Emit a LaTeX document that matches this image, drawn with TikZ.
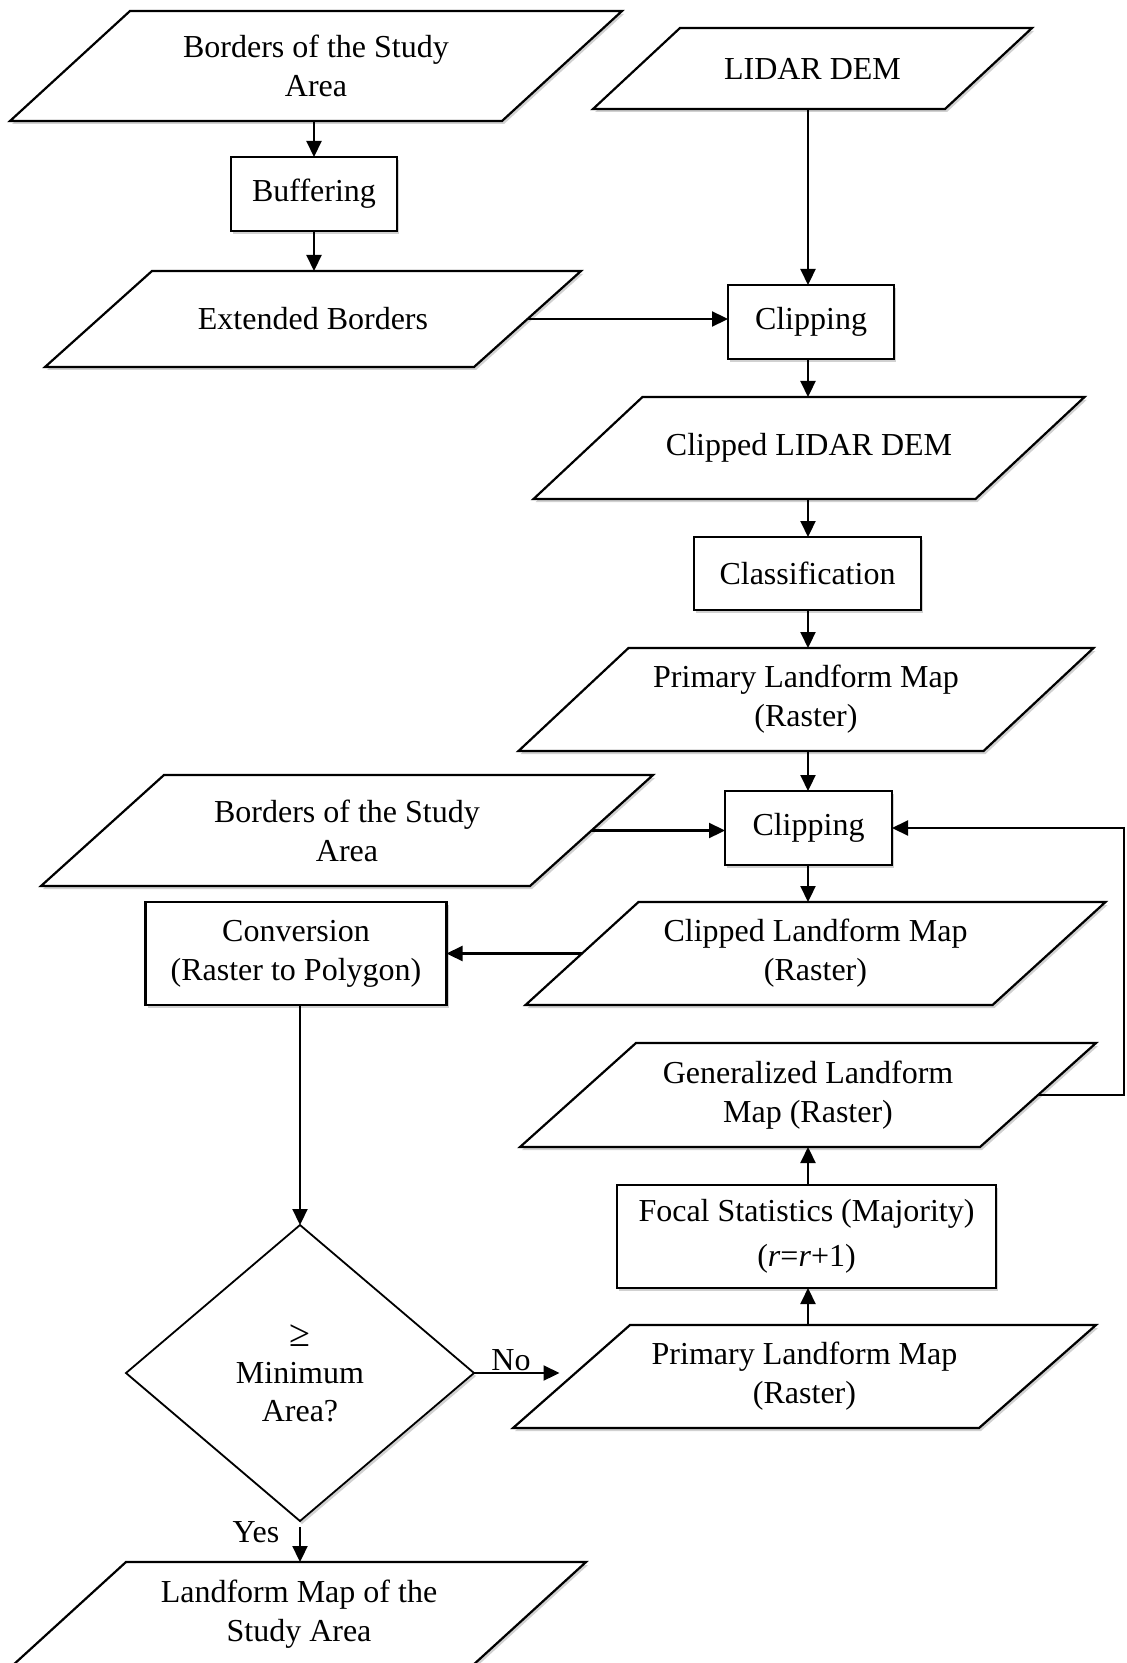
\documentclass[tikz,border=0pt]{standalone}
\usepackage{fontspec}
\setmainfont{Liberation Serif}
\usetikzlibrary{arrows.meta,shapes.geometric,shadows,backgrounds}
% parallelogram: name, x, y, body width, height, half slant offset, text
\newcommand{\pgram}[7]{%
  \node[ptext, minimum width=#4, minimum height=#5] (#1) at (#2,#3) {#7};
  \begin{scope}[on background layer]
    \draw[pshape] ([xshift=#6]#1.north west) -- ([xshift=#6]#1.north east)
      -- ([xshift=-#6]#1.south east) -- ([xshift=-#6]#1.south west) -- cycle;
  \end{scope}}
\begin{document}
\begin{tikzpicture}[x=0.5pt,y=-0.5pt,
  every node/.style={font=\fontsize{16}{19.5}\selectfont},
  shad/.style={drop shadow={shadow xshift=1pt, shadow yshift=-1.5pt, opacity=0.3, fill=black!60}},
  ptext/.style={shape=rectangle, inner sep=0pt, outer sep=0pt, align=center},
  pshape/.style={draw, line width=1.1pt, fill=white, shad},
  box/.style={draw, line width=1.1pt, fill=white, shad, inner sep=0pt, outer sep=0pt, align=center},
  dia/.style={shape=diamond, draw, line width=0.9pt, fill=white, shad, inner sep=0pt, outer sep=0pt, align=center, font=\fontsize{16}{18.75}\selectfont},
  arr/.style={line width=1.1pt, -{Triangle[length=8pt,width=7.5pt]}},
  lbl/.style={inner sep=0pt}
]
\useasboundingbox (0,0) rectangle (1126,1663);

\pgram{b1}{316}{66}{246pt}{55pt}{30pt}{Borders of the Study\\Area}
\node[box, minimum width=83pt, minimum height=37pt] (buf) at (314,194) {Buffering};
\pgram{ext}{313}{319}{214.5pt}{48pt}{26.75pt}{Extended Borders}
\pgram{lidar}{812.5}{68.5}{176pt}{40.5pt}{21.75pt}{LIDAR DEM}
\node[box, minimum width=83pt, minimum height=37pt] (clip1) at (811,322) {Clipping};
\pgram{cdem}{809}{448}{221pt}{51pt}{27.25pt}{Clipped LIDAR DEM}
\node[box, minimum width=113.5pt, minimum height=36.5pt] (cls) at (807.5,573.5) {Classification};
\pgram{plm1}{806}{699.5}{232.5pt}{51.5pt}{27.5pt}{Primary Landform Map\\(Raster)}
\pgram{b2}{347}{830.5}{244.5pt}{55.5pt}{30.75pt}{Borders of the Study\\Area}
\node[box, minimum width=83.5pt, minimum height=37pt] (clip2) at (808.5,828) {Clipping};
\pgram{clm}{815.5}{953.5}{233.5pt}{51.5pt}{28.25pt}{Clipped Landform Map\\(Raster)}
\node[box, minimum width=150.5pt, minimum height=51.5pt] (conv) at (296,953.5) {Conversion\\(Raster to Polygon)};
\pgram{glm}{808}{1095}{230pt}{52pt}{29pt}{Generalized Landform\\Map (Raster)}
\node[box, minimum width=189.5pt, minimum height=51.5pt] (focal) at (806.5,1236.5) {Focal Statistics (Majority)\\[3pt](\textit{r}=\textit{r}+1)};
\pgram{plm2}{804.5}{1376.5}{233pt}{51.5pt}{29.25pt}{Primary Landform Map\\(Raster)}
\node[dia, minimum width=174pt, minimum height=148pt] (dia) at (300,1373) {{\fontsize{19}{19}\selectfont ≥}\\Minimum\\Area?};
\pgram{final}{299}{1614}{230pt}{52pt}{28.5pt}{Landform Map of the\\Study Area}

\node[lbl] (no) at (511,1360) {No};
\node[lbl] (yes) at (256,1532) {Yes};

\coordinate (col) at (808,0);
\coordinate (fb) at (1124,1095);
\draw[arr] (b1.south -| buf.north) -- (buf.north);
\draw[arr] (buf.south) -- (buf.south |- ext.north);
\draw[arr] (ext.east) -- (ext.east -| clip1.west);
\draw[arr] (lidar.south -| col) -- (clip1.north -| col);
\draw[arr] (clip1.south -| col) -- (cdem.north -| col);
\draw[arr] (cdem.south -| col) -- (cls.north -| col);
\draw[arr] (cls.south -| col) -- (plm1.north -| col);
\draw[arr] (plm1.south -| col) -- (clip2.north -| col);
\draw[arr] (b2.east) -- (b2.east -| clip2.west);
\draw[arr] (clip2.south -| col) -- (clm.north -| col);
\draw[arr] (clm.west) -- (clm.west -| conv.east);
\draw[arr] (conv.south -| dia.north) -- (dia.north);
\draw[arr, shorten >=6pt] (dia.east) -- (dia.east -| plm2.west);
\draw[arr] (plm2.north -| col) -- (focal.south -| col);
\draw[arr] (focal.north -| col) -- (glm.south -| col);
\draw[arr] (glm.east) -- (glm.east -| fb) |- (clip2.east);
\draw[arr, shorten <=3pt] (dia.south) -- (dia.south |- final.north);
\end{tikzpicture}
\end{document}
